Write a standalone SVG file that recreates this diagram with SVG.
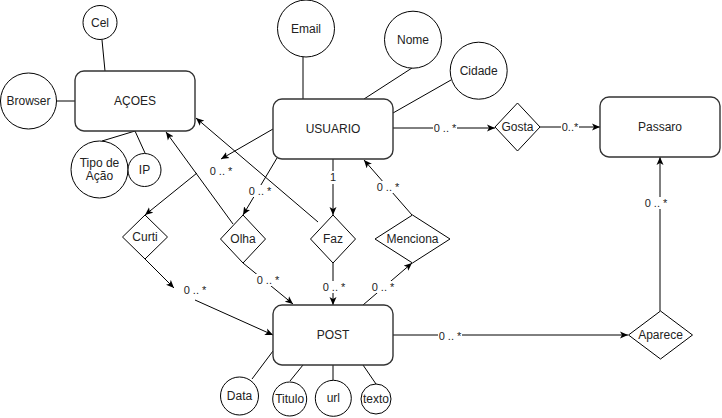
<svg xmlns="http://www.w3.org/2000/svg" width="722" height="418" viewBox="0 0 722 418">
<defs>
<marker id="arr" viewBox="0 0 8 8" markerWidth="8" markerHeight="8" refX="8" refY="4" orient="auto" markerUnits="userSpaceOnUse">
<path d="M0,0.5 L8,4 L0,7.5 L2,4 Z" fill="#000"/>
</marker>
<style>
.ent{fill:#fff;stroke:#333;stroke-width:1.4}
.attr{fill:#fff;stroke:#000;stroke-width:1}
.rel{fill:#fff;stroke:#000;stroke-width:1}
.t{font-family:"Liberation Sans",Arial,sans-serif;font-size:12px;fill:#222;text-anchor:middle;dominant-baseline:central}
.lb{font-family:"Liberation Sans",Arial,sans-serif;font-size:11px;fill:#222;text-anchor:middle;dominant-baseline:central}
.ln{fill:none;stroke:#000;stroke-width:1}
.a{fill:none;stroke:#000;stroke-width:1;marker-end:url(#arr)}
.bg{fill:#fff}
</style>
</defs>
<rect width="722" height="418" fill="#fff"/>

<g id="connectors">
<!-- attribute lines -->
<line class="ln" x1="102" y1="40" x2="105" y2="71"/>
<line class="ln" x1="57" y1="101" x2="75" y2="101"/>
<line class="ln" x1="102" y1="141" x2="135" y2="131"/>
<line class="ln" x1="145" y1="153" x2="135" y2="131"/>
<line class="ln" x1="303" y1="57" x2="303" y2="99"/>
<line class="ln" x1="412" y1="68" x2="364" y2="99"/>
<line class="ln" x1="451" y1="80" x2="393" y2="113"/>
<line class="ln" x1="252" y1="379" x2="273" y2="351"/>
<line class="ln" x1="290" y1="381" x2="303" y2="365"/>
<line class="ln" x1="333" y1="380" x2="333" y2="365"/>
<line class="ln" x1="376" y1="384" x2="363" y2="365"/>
<!-- relationships -->
<line class="a" x1="273" y1="129" x2="221" y2="159"/>
<line class="a" x1="197" y1="173" x2="145" y2="215"/>
<line class="a" x1="145" y1="259" x2="174" y2="288"/>
<line class="a" x1="195" y1="300" x2="273" y2="335"/>
<line class="a" x1="233" y1="224" x2="166" y2="132"/>
<line class="a" x1="277" y1="158" x2="243" y2="215"/>
<line class="a" x1="243" y1="263" x2="293" y2="304"/>
<line class="a" x1="318" y1="222" x2="196" y2="118"/>
<line class="a" x1="333" y1="159" x2="333" y2="215"/>
<line class="a" x1="333" y1="263" x2="333" y2="305"/>
<line class="a" x1="412" y1="215" x2="364" y2="160"/>
<line class="a" x1="363" y1="305" x2="412" y2="263"/>
<line class="a" x1="393" y1="128" x2="495" y2="128"/>
<line class="a" x1="540" y1="127" x2="600" y2="127"/>
<line class="a" x1="393" y1="335" x2="628" y2="335"/>
<line class="a" x1="660" y1="311" x2="660" y2="157"/>
<!-- labels -->
<rect class="bg" x="209" y="165" width="24" height="12"/><text class="lb" x="221" y="171">0 .. *</text>
<rect class="bg" x="183" y="284" width="24" height="12"/><text class="lb" x="195" y="290">0 .. *</text>
<rect class="bg" x="248" y="185" width="24" height="12"/><text class="lb" x="260" y="191">0 .. *</text>
<rect class="bg" x="256" y="274" width="24" height="12"/><text class="lb" x="268" y="280">0 .. *</text>
<rect class="bg" x="328" y="171" width="10" height="13"/><text class="lb" x="333" y="177">1</text>
<rect class="bg" x="322" y="281" width="24" height="12"/><text class="lb" x="334" y="287">0 .. *</text>
<rect class="bg" x="376" y="181" width="24" height="12"/><text class="lb" x="388" y="187">0 .. *</text>
<rect class="bg" x="371" y="281" width="24" height="12"/><text class="lb" x="383" y="287">0 .. *</text>
<rect class="bg" x="433" y="122" width="24" height="12"/><text class="lb" x="445" y="128">0 .. *</text>
<rect class="bg" x="561" y="121" width="18" height="12"/><text class="lb" x="570" y="127">0..*</text>
<rect class="bg" x="438" y="330" width="24" height="12"/><text class="lb" x="450" y="336">0 .. *</text>
<rect class="bg" x="644" y="197" width="24" height="12"/><text class="lb" x="656" y="203">0 .. *</text>
</g>

<g id="acoes"><rect class="ent" x="75" y="71" width="120" height="60" rx="9"/><text class="t" x="135" y="101">AÇOES</text></g>
<g id="cel"><circle class="attr" cx="100" cy="22.5" r="17"/><text class="t" x="100" y="22.5">Cel</text></g>
<g id="browser"><circle class="attr" cx="28.5" cy="101" r="28"/><text class="t" x="28.5" y="101">Browser</text></g>
<g id="tipo"><circle class="attr" cx="99.5" cy="169.5" r="28.5"/><text class="t" x="99.5" y="163">Tipo de</text><text class="t" x="99.5" y="176">Ação</text></g>
<g id="ip"><circle class="attr" cx="144.5" cy="170" r="16.5"/><text class="t" x="144.5" y="170">IP</text></g>

<g id="usuario"><rect class="ent" x="273" y="99" width="120" height="60" rx="9"/><text class="t" x="333" y="129">USUARIO</text></g>
<g id="email"><circle class="attr" cx="306" cy="28.5" r="28.5"/><text class="t" x="306" y="28.5">Email</text></g>
<g id="nome"><circle class="attr" cx="413" cy="39.7" r="28.5"/><text class="t" x="413" y="39.7">Nome</text></g>
<g id="cidade"><circle class="attr" cx="478.7" cy="70.7" r="28.5"/><text class="t" x="478.7" y="70.7">Cidade</text></g>

<g id="gosta"><polygon class="rel" points="517.5,103 540,127 517.5,151 495,127"/><text class="t" x="517.5" y="127">Gosta</text></g>
<g id="passaro"><rect class="ent" x="600" y="97" width="120" height="60" rx="9"/><text class="t" x="660" y="127">Passaro</text></g>
<g id="aparece"><polygon class="rel" points="660.5,311 692.5,335 660.5,359 628.5,335"/><text class="t" x="660.5" y="335">Aparece</text></g>

<g id="curti"><polygon class="rel" points="145,215 167.5,237 145,259 122.5,237"/><text class="t" x="145" y="237">Curti</text></g>
<g id="olha"><polygon class="rel" points="243,215 265.5,239 243,263 220.5,239"/><text class="t" x="243" y="239">Olha</text></g>
<g id="faz"><polygon class="rel" points="333,215 355.5,239 333,263 310.5,239"/><text class="t" x="333" y="239">Faz</text></g>
<g id="menciona"><polygon class="rel" points="412.5,215 450,239 412.5,263 375,239"/><text class="t" x="412.5" y="239">Menciona</text></g>

<g id="post"><rect class="ent" x="273" y="305" width="120" height="60" rx="9"/><text class="t" x="333" y="335">POST</text></g>
<g id="data"><circle class="attr" cx="239.5" cy="396" r="19"/><text class="t" x="239.5" y="396">Data</text></g>
<g id="titulo"><circle class="attr" cx="289.7" cy="399" r="17"/><text class="t" x="289.7" y="399">Titulo</text></g>
<g id="url"><circle class="attr" cx="333.3" cy="398.3" r="18"/><text class="t" x="333.3" y="398.3">url</text></g>
<g id="texto"><circle class="attr" cx="376" cy="399" r="15"/><text class="t" x="376" y="399">texto</text></g>
</svg>
